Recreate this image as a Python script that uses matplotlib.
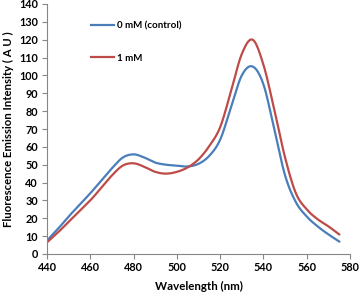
import numpy as np
import matplotlib
matplotlib.use("Agg")
import matplotlib.pyplot as plt

plt.rcParams['font.family'] = ['Lato', 'DejaVu Sans']
plt.rcParams['font.weight'] = 'bold'

wavelength = [440, 445, 450, 455, 460, 465, 470, 475, 480, 485, 490, 495, 500, 505,
              510, 515, 520, 525, 530, 535, 540, 545, 550, 555, 560, 565, 570, 575]
control = [7.5, 14, 21, 27.5, 34, 41, 48, 54, 55.8, 54, 51.2, 50, 49.5, 49,
           50.5, 55, 64, 82, 100, 105, 95, 70, 44, 29, 21, 15.5, 11, 7]
one_mM = [6.5, 12, 18, 24, 30, 37, 44, 49.5, 50.8, 48.8, 46, 45, 46, 48.5,
          53, 60.5, 71, 91, 112, 120, 106, 81, 54, 34, 25, 19.5, 15.5, 11]
labels = ["0 mM (control)", "1 mM"]
colors = ["#4A7EBB", "#BE4B48"]


def smooth(x, y, n=20):
    """Catmull-Rom smoothing (like Excel 'smoothed line')."""
    x = np.asarray(x, float)
    y = np.asarray(y, float)
    px = np.concatenate([[2 * x[0] - x[1]], x, [2 * x[-1] - x[-2]]])
    py = np.concatenate([[2 * y[0] - y[1]], y, [2 * y[-1] - y[-2]]])
    xs, ys = [], []
    t = np.linspace(0, 1, n, endpoint=False)
    for i in range(1, len(px) - 2):
        p0, p1, p2, p3 = px[i - 1:i + 3]
        q0, q1, q2, q3 = py[i - 1:i + 3]
        for arr, a0, a1, a2, a3 in ((xs, p0, p1, p2, p3), (ys, q0, q1, q2, q3)):
            arr.extend(0.5 * ((2 * a1) + (-a0 + a2) * t +
                              (2 * a0 - 5 * a1 + 4 * a2 - a3) * t ** 2 +
                              (-a0 + 3 * a1 - 3 * a2 + a3) * t ** 3))
    xs.append(x[-1])
    ys.append(y[-1])
    return np.array(xs), np.array(ys)


fig = plt.figure(figsize=(3.59, 3.01), dpi=100)
ax = fig.add_axes([47 / 359, 1 - 254 / 301, 303 / 359, 250 / 301])

for series, lab, c in zip([control, one_mM], labels, colors):
    sx, sy = smooth(wavelength, series)
    ax.plot(sx, sy, color=c, lw=1.6, label=lab)

ax.set_xlim(440, 580)
ax.set_ylim(0, 140)
ax.set_xticks(np.arange(440, 581, 20))
ax.set_yticks(np.arange(0, 141, 10))

for s in ['top', 'right']:
    ax.spines[s].set_visible(False)
for s in ['left', 'bottom']:
    ax.spines[s].set_color('#868686')
    ax.spines[s].set_linewidth(0.8)
ax.tick_params(axis='both', direction='out', length=3.5, width=0.8,
               color='#868686', labelsize=7.8, pad=3)
ax.tick_params(axis='x', pad=2)
for lbl in ax.get_xticklabels() + ax.get_yticklabels():
    lbl.set_fontweight('bold')

ax.set_xlabel("Wavelength (nm)", fontsize=8.3, fontweight='bold', labelpad=6)
ax.set_ylabel("Fluorescence Emission Intensity ( A U )", fontsize=8.2,
              fontweight='bold', labelpad=4)

leg = ax.legend(loc='upper left', bbox_to_anchor=(0.115, 0.965), frameon=False,
                handlelength=2.4, handletextpad=0.3, labelspacing=2.4,
                prop={'size': 7, 'weight': 'bold'})

fig.savefig("out.png", dpi=100)
